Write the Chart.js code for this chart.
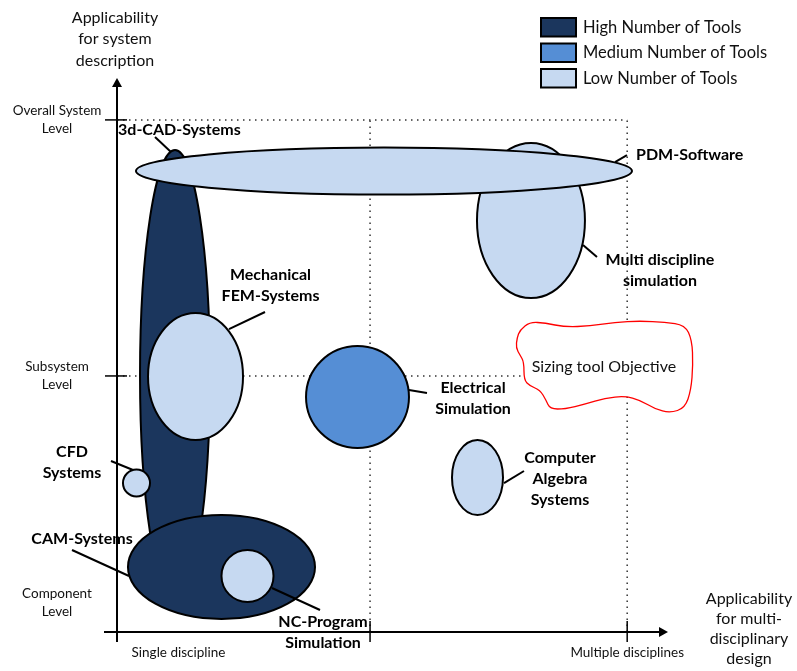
<!DOCTYPE html>
<html>
<head>
<meta charset="utf-8">
<script src="https://cdn.jsdelivr.net/npm/chart.js@4"></script>
<style>
  html, body { margin: 0; padding: 0; background: #fff; }
  canvas { display: block; }
</style>
</head>
<body>
<canvas id="toolMap" width="797" height="671"></canvas>
<script>
// tools, drawn in this order (later ones on top)
const tools = ['3d-CAD-Systems', 'Multi discipline simulation', 'PDM-Software', 'Mechanical FEM-Systems',
  'Electrical Simulation', 'CFD Systems', 'Computer Algebra Systems', 'CAM-Systems', 'NC-Program Simulation'];
const toolLevel = [0, 2, 2, 2, 1, 2, 2, 0, 2];
const centerX = [11.37, 81.14, 52.33, 15.39, 47.14, 3.82, 70.66, 20.48, 25.58];
const centerY = [50.28, 80.51, 90.20, 49.99, 45.98, 29.15, 30.23, 12.72, 10.96];
const spreadX = [6.86, 10.58, 48.61, 9.31, 10.09, 2.65, 5.00, 18.33, 5.10];
const spreadY = [44.02, 15.16, 4.60, 12.42, 9.98, 2.64, 7.34, 10.17, 5.09];

// labels + leader lines
const labelLines = [['3d-CAD-Systems'], ['Multi discipline', 'simulation'], ['PDM-Software'], ['Mechanical', 'FEM-Systems'],
  ['Electrical', 'Simulation'], ['CFD', 'Systems'], ['Computer', 'Algebra', 'Systems'], ['CAM-Systems'], ['NC-Program', 'Simulation']];
const labelX = [0.20, 106.43, 101.73, 30.09, 69.78, -8.82, 86.83, -6.86, 40.38];
const labelY = [98.22, 70.83, 93.33, 67.89, 45.78, 33.16, 29.94, 18.20, -0.10];
const labelAlign = ['left', 'center', 'left', 'center', 'center', 'center', 'center', 'center', 'center'];
const leaderX1 = [7.45, 91.34, 97.61, 21.95, 57.23, -1.18, 75.85, -8.82, 30.38];
const leaderY1 = [96.85, 75.72, 91.96, 59.28, 47.35, 33.46, 29.15, 16.04, 8.61];
const leaderX2 = [10.58, 94.08, 99.96, 29.01, 60.76, 3.14, 79.77, 2.35, 39.79];
const leaderY2 = [93.91, 73.37, 93.33, 62.61, 46.76, 31.70, 31.50, 10.96, 4.30];

// legend
const levelNames = ['High Number of Tools', 'Medium Number of Tools', 'Low Number of Tools'];
const levelColors = ['#1b365d', '#558ed5', '#c6d9f1'];

// axes
const xTickValues = [49.6, 100];
const yTickValues = [50.1, 100.2];
const xLabels = ['Single discipline', 'Multiple disciplines'];
const xLabelValues = [12.05, 100];
const yLabels = [['Component', 'Level'], ['Subsystem', 'Level'], ['Overall System', 'Level']];
const yLabelValues = [5.77, 50.1, 100.2];
const yTitle = ['Applicability', 'for system', 'description'];
const xTitle = ['Applicability', 'for multi-', 'disciplinary', 'design'];

// "Sizing tool Objective" outline
const blobX = [78.99, 80.95, 83.89, 87.81, 92.71, 97.61, 102.51, 107.41, 111.33, 112.70, 112.90, 112.51, 111.33,
  108.39, 105.45, 102.51, 99.57, 95.65, 91.73, 87.81, 84.87, 84.08, 82.91, 80.95, 79.77, 79.77, 78.99, 78.21, 78.40];
const blobY = [59.09, 60.65, 60.46, 59.68, 59.87, 60.65, 60.85, 60.65, 60.07, 57.13, 52.24, 47.35, 43.83,
  42.85, 43.64, 45.39, 46.17, 45.78, 44.61, 43.63, 43.63, 45.39, 47.35, 48.13, 49.31, 52.83, 54.20, 55.57, 57.52];
const blobText = 'Sizing tool Objective';
const blobTextX = 95.45, blobTextY = 51.85;

const FONT = 'Lato, "DejaVu Sans", sans-serif';

function multiText(ctx, lines, x, y, lh) {
  const top = y - (lines.length - 1) * lh / 2;
  lines.forEach((t, i) => ctx.fillText(t, x, top + i * lh));
}

const diagramPlugin = {
  id: 'diagram',
  beforeDatasetsDraw(chart) {
    const ctx = chart.ctx;
    const xs = chart.scales.x, ys = chart.scales.y;
    const px = v => xs.getPixelForValue(v), py = v => ys.getPixelForValue(v);
    ctx.save();
    // dotted guides
    ctx.strokeStyle = '#333';
    ctx.lineWidth = 1.5;
    ctx.setLineDash([1.5, 4.5]);
    yTickValues.forEach(v => {
      ctx.beginPath(); ctx.moveTo(px(0), py(v)); ctx.lineTo(px(xTickValues[1]), py(v)); ctx.stroke();
    });
    xTickValues.forEach(v => {
      ctx.beginPath(); ctx.moveTo(px(v), py(0)); ctx.lineTo(px(v), py(yTickValues[1])); ctx.stroke();
    });
    ctx.setLineDash([]);

    // ellipses
    chart.data.datasets.forEach((ds, i) => {
      const el = chart.getDatasetMeta(i).data[0];
      const rx = Math.abs(px(centerX[i] + spreadX[i]) - el.x);
      const ry = Math.abs(py(centerY[i] + spreadY[i]) - el.y);
      ctx.beginPath();
      ctx.ellipse(el.x, el.y, rx, ry, 0, 0, Math.PI * 2);
      ctx.fillStyle = ds.backgroundColor;
      ctx.fill();
      ctx.lineWidth = 2;
      ctx.strokeStyle = '#000';
      ctx.stroke();
    });

    // sizing tool blob
    const n = blobX.length;
    const pts = blobX.map((v, i) => [px(v), py(blobY[i])]);
    ctx.beginPath();
    const mid = (a, b) => [(a[0] + b[0]) / 2, (a[1] + b[1]) / 2];
    let m0 = mid(pts[n - 1], pts[0]);
    ctx.moveTo(m0[0], m0[1]);
    for (let i = 0; i < n; i++) {
      const m = mid(pts[i], pts[(i + 1) % n]);
      ctx.quadraticCurveTo(pts[i][0], pts[i][1], m[0], m[1]);
    }
    ctx.closePath();
    ctx.fillStyle = '#fff';
    ctx.fill();
    ctx.strokeStyle = '#ff0000';
    ctx.lineWidth = 1.3;
    ctx.stroke();
    ctx.fillStyle = '#111';
    ctx.font = '16px ' + FONT;
    ctx.textAlign = 'center';
    ctx.textBaseline = 'middle';
    ctx.fillText(blobText, px(blobTextX), py(blobTextY));

    // leader lines
    ctx.strokeStyle = '#000';
    ctx.lineWidth = 2;
    tools.forEach((t, i) => {
      ctx.beginPath();
      ctx.moveTo(px(leaderX1[i]), py(leaderY1[i]));
      ctx.lineTo(px(leaderX2[i]), py(leaderY2[i]));
      ctx.stroke();
    });

    // tool labels
    ctx.fillStyle = '#000';
    ctx.font = 'bold 16px ' + FONT;
    tools.forEach((t, i) => {
      ctx.textAlign = labelAlign[i];
      multiText(ctx, labelLines[i], px(labelX[i]), py(labelY[i]), 21);
    });

    // axes with arrows
    const x0 = px(0), y0 = py(0);
    const xEnd = chart.chartArea.right, yEnd = chart.chartArea.top;
    ctx.strokeStyle = '#000';
    ctx.lineWidth = 2;
    ctx.beginPath();
    ctx.moveTo(x0, y0 + 10); ctx.lineTo(x0, yEnd + 6);
    ctx.moveTo(x0 - 13, y0); ctx.lineTo(xEnd - 6, y0);
    ctx.stroke();
    ctx.fillStyle = '#000';
    ctx.beginPath();
    ctx.moveTo(x0, yEnd); ctx.lineTo(x0 - 5, yEnd + 9); ctx.lineTo(x0 + 5, yEnd + 9); ctx.closePath(); ctx.fill();
    ctx.beginPath();
    ctx.moveTo(xEnd, y0); ctx.lineTo(xEnd - 9, y0 - 5); ctx.lineTo(xEnd - 9, y0 + 5); ctx.closePath(); ctx.fill();
    ctx.lineWidth = 1.5;
    xTickValues.forEach(v => {
      ctx.beginPath(); ctx.moveTo(px(v), y0 - 11); ctx.lineTo(px(v), y0 + 10); ctx.stroke();
    });
    yTickValues.forEach(v => {
      ctx.beginPath(); ctx.moveTo(x0 - 12, py(v)); ctx.lineTo(x0 + 10, py(v)); ctx.stroke();
    });

    // tick labels
    ctx.fillStyle = '#111';
    ctx.font = '13.5px ' + FONT;
    ctx.textAlign = 'center';
    xLabels.forEach((t, i) => ctx.fillText(t, px(xLabelValues[i]), y0 + 21));
    yLabels.forEach((t, i) => multiText(ctx, t, 57, py(yLabelValues[i]), 18));

    // axis titles
    ctx.font = '16px ' + FONT;
    multiText(ctx, yTitle, 115, 39, 21.5);
    multiText(ctx, xTitle, 749, 629, 20);

    // legend
    ctx.textAlign = 'left';
    ctx.font = '16.5px ' + FONT;
    levelNames.forEach((name, i) => {
      const y = 18 + i * 25.5;
      ctx.fillStyle = levelColors[i];
      ctx.fillRect(541, y, 35, 18.5);
      ctx.strokeStyle = '#000';
      ctx.lineWidth = 2;
      ctx.strokeRect(541, y, 35, 18.5);
      ctx.fillStyle = '#111';
      ctx.fillText(name, 583, y + 9.5);
    });
    ctx.restore();
  }
};

new Chart(document.getElementById('toolMap'), {
  type: 'scatter',
  data: {
    datasets: tools.map((t, i) => ({
      label: t,
      data: [{ x: centerX[i], y: centerY[i] }],
      backgroundColor: levelColors[toolLevel[i]],
      pointRadius: 0
    }))
  },
  options: {
    responsive: false,
    animation: false,
    devicePixelRatio: 1,
    layout: { padding: { left: 117, right: 129, top: 78, bottom: 39 } },
    scales: {
      x: { type: 'linear', min: 0, max: 108, display: false },
      y: { type: 'linear', min: 0, max: 108.4, display: false }
    },
    plugins: { legend: { display: false }, tooltip: { enabled: false } }
  },
  plugins: [diagramPlugin]
});
</script>
</body>
</html>
